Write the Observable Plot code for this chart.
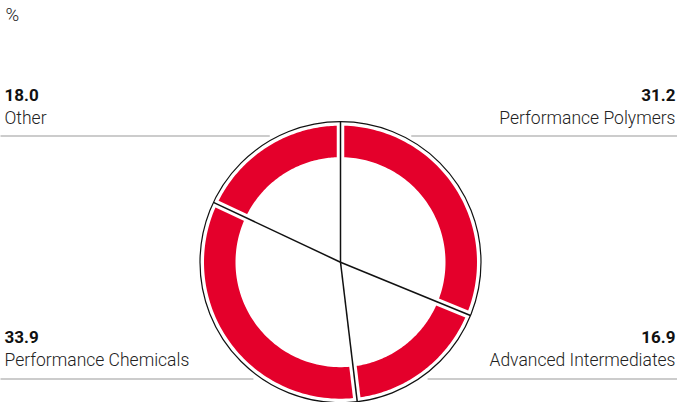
<!DOCTYPE html>
<html>
<head>
<meta charset="utf-8">
<script src="https://cdn.jsdelivr.net/npm/d3@7"></script>
<script src="https://cdn.jsdelivr.net/npm/@observablehq/plot@0.6"></script>
<style>
  html, body { margin: 0; padding: 0; background: #fff; }
  svg { display: block; }
</style>
</head>
<body>
<div id="chart"></div>
<script>
const segments = ["Performance Polymers", "Advanced Intermediates", "Performance Chemicals", "Other"];
const shares = [31.2, 16.9, 33.9, 18.0];
const unitLabel = "%";

const W = 677, H = 402;
const cx = 340, cy = 261.7;           // pixel centre of the donut
const R = 140.5, rOut = 136.5, rIn = 105;
const RED = "#e4002b";
const FONT = "Roboto, 'Liberation Sans', Arial, sans-serif";

const pie = d3.pie().sort(null).value(d => d.value)(segments.map((name, i) => ({name, value: shares[i]})));

// ring polygons
const ring = [];
for (const p of pie) {
  const n = 80;
  for (let k = 0; k <= n; k++) {
    const a = p.startAngle + (p.endAngle - p.startAngle) * k / n;
    ring.push({name: p.data.name, x: rOut * Math.sin(a), y: rOut * Math.cos(a)});
  }
  for (let k = n; k >= 0; k--) {
    const a = p.startAngle + (p.endAngle - p.startAngle) * k / n;
    ring.push({name: p.data.name, x: rIn * Math.sin(a), y: rIn * Math.cos(a)});
  }
}
const dividers = pie.map(p => ({x2: R * Math.sin(p.startAngle), y2: R * Math.cos(p.startAngle)}));

// label layout by quadrant of mid angle
const rowPix = {top: {value: 95, name: 118, rule: 135.5}, bottom: {value: 337, name: 360, rule: 378.5}};
const toY = px => cy - px;
const labels = pie.map(p => {
  const mid = (p.startAngle + p.endAngle) / 2;
  const right = Math.sin(mid) > 0;
  const row = Math.cos(mid) > 0 ? rowPix.top : rowPix.bottom;
  const dyc = row.rule - cy;
  const reach = Math.sqrt(Math.max(0, R * R - dyc * dyc)) + 9;
  return {
    name: p.data.name,
    value: p.data.value.toFixed(1),
    right,
    x: right ? (W - 2 - cx) : (4 - cx),
    yValue: toY(row.value),
    yName: toY(row.name),
    yRule: toY(row.rule),
    rx1: right ? reach : -cx,
    rx2: right ? W - cx : -reach
  };
});
const leftLabels = labels.filter(d => !d.right);
const rightLabels = labels.filter(d => d.right);

const valueStyle = {fontSize: 17, fontWeight: 700, fill: "#111"};
const nameStyle = {fontSize: 17.5, fontWeight: 300, fill: "#222"};

const plot = Plot.plot({
  width: W, height: H,
  margin: 0,
  x: {domain: [-cx, W - cx], axis: null},
  y: {domain: [cy - H, cy], axis: null},
  style: {fontFamily: FONT, background: "#fff"},
  marks: [
    Plot.line(ring, {x: "x", y: "y", z: "name", fill: RED, stroke: null, curve: "linear-closed"}),
    Plot.link(dividers, {x1: 0, y1: 0, x2: "x2", y2: "y2", stroke: "#fff", strokeWidth: 7.5}),
    Plot.link(dividers, {x1: 0, y1: 0, x2: "x2", y2: "y2", stroke: "#111", strokeWidth: 1.5}),
    Plot.dot([0], {x: 0, y: 0, r: R, stroke: "#111", strokeWidth: 1.2, fill: "none"}),
    Plot.link(labels, {x1: "rx1", x2: "rx2", y1: "yRule", y2: "yRule", stroke: "#9a9a9a", strokeWidth: 1.2}),
    Plot.text(leftLabels, {x: "x", y: "yValue", text: "value", textAnchor: "start", ...valueStyle}),
    Plot.text(rightLabels, {x: "x", y: "yValue", text: "value", textAnchor: "end", ...valueStyle}),
    Plot.text(leftLabels, {x: "x", y: "yName", text: "name", textAnchor: "start", ...nameStyle}),
    Plot.text(rightLabels, {x: "x", y: "yName", text: "name", textAnchor: "end", ...nameStyle}),
    Plot.text([unitLabel], {frameAnchor: "top-left", dx: 5, dy: 7, text: d => d, fontSize: 18.5, fontWeight: 300, fill: "#222"})
  ]
});
document.getElementById("chart").append(plot);
</script>
</body>
</html>
